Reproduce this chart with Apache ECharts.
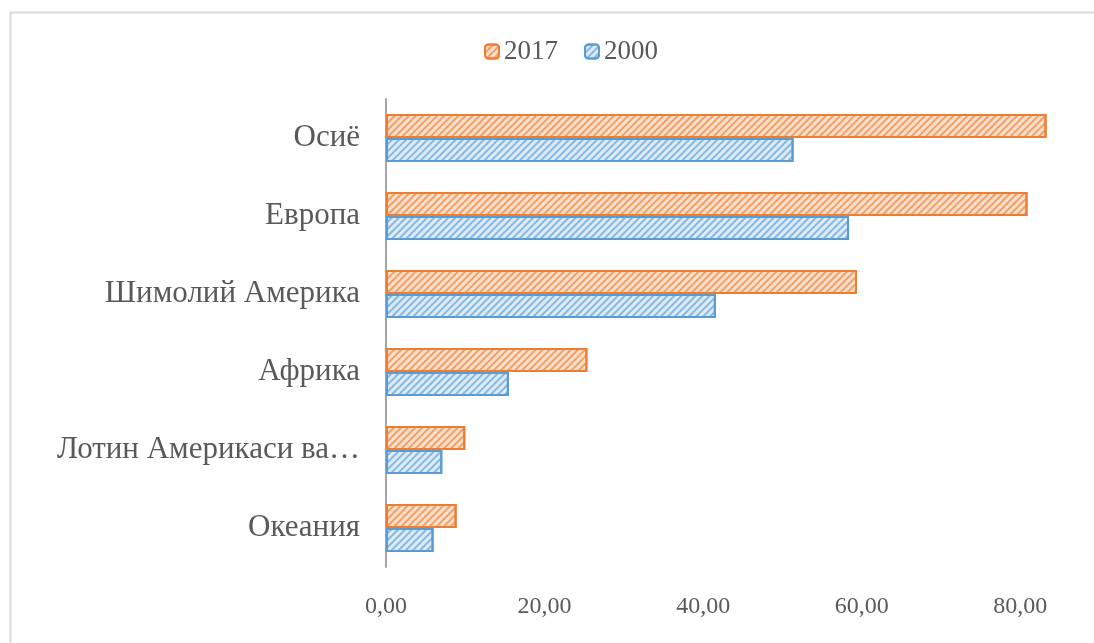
<!DOCTYPE html>
<html>
<head>
<meta charset="utf-8">
<script src="https://cdn.jsdelivr.net/npm/echarts@6/dist/echarts.min.js"></script>
<style>
html,body{margin:0;padding:0;background:#fff;}
#chart{width:1094px;height:643px;}
</style>
</head>
<body>
<div id="chart"></div>
<script>
var categories = ['Осиё', 'Европа', 'Шимолий Америка', 'Африка', 'Лотин Америкаси ва…', 'Океания'];
var values2017 = [83.3, 80.9, 59.4, 25.4, 10.0, 8.9];
var values2000 = [51.4, 58.4, 41.6, 15.5, 7.1, 6.0];
var seriesNames = ['2017', '2000'];
var tickValues = [0, 20, 40, 60, 80];

var font = '"Liberation Serif", "DejaVu Serif", serif';
var chart = echarts.init(document.getElementById('chart'));

function decal(color) {
  return {
    symbol: 'rect',
    symbolSize: 1,
    dashArrayX: [1, 0],
    dashArrayY: [1.5, 2.5],
    rotation: -Math.PI / 4,
    color: color
  };
}

chart.setOption({
  animation: false,
  backgroundColor: '#fff',
  graphic: [{
    type: 'rect',
    left: 8, top: 10,
    shape: {width: 1100, height: 650},
    style: {fill: 'none', stroke: '#d9d9d9', lineWidth: 2},
    silent: true
  }],
  legend: {
    top: 33,
    left: 479,
    itemWidth: 14,
    itemHeight: 14,
    itemGap: 26,
    textStyle: {fontFamily: font, fontSize: 27, color: '#595959'},
    data: seriesNames
  },
  grid: {left: 386, right: 34, top: 99, bottom: 76, containLabel: false},
  xAxis: {
    type: 'value',
    min: 0,
    max: 85,
    interval: 20,
    splitLine: {show: false},
    axisLine: {show: false},
    axisTick: {show: false},
    axisLabel: {
      fontFamily: font, fontSize: 24, color: '#595959', margin: 28,
      showMaxLabel: false,
      formatter: function (v) {
        return tickValues.indexOf(v) >= 0 ? v.toFixed(2).replace('.', ',') : '';
      }
    }
  },
  yAxis: {
    type: 'category',
    inverse: true,
    data: categories,
    axisLine: {show: true, lineStyle: {color: '#a6a6a6', width: 2}},
    axisTick: {show: false},
    axisLabel: {fontFamily: font, fontSize: 31, color: '#595959', margin: 26}
  },
  series: [{
    name: seriesNames[0],
    type: 'bar',
    data: values2017,
    barWidth: 24,
    barGap: '0%',
    itemStyle: {
      color: '#fce0cb',
      borderColor: '#ed7d31',
      borderWidth: 2,
      decal: decal('rgba(237,125,49,0.65)')
    }
  }, {
    name: seriesNames[1],
    type: 'bar',
    data: values2000,
    barWidth: 24,
    barGap: '0%',
    itemStyle: {
      color: '#dcebf8',
      borderColor: '#5b9bd5',
      borderWidth: 2,
      decal: decal('rgba(91,155,213,0.65)')
    }
  }]
});
</script>
</body>
</html>
